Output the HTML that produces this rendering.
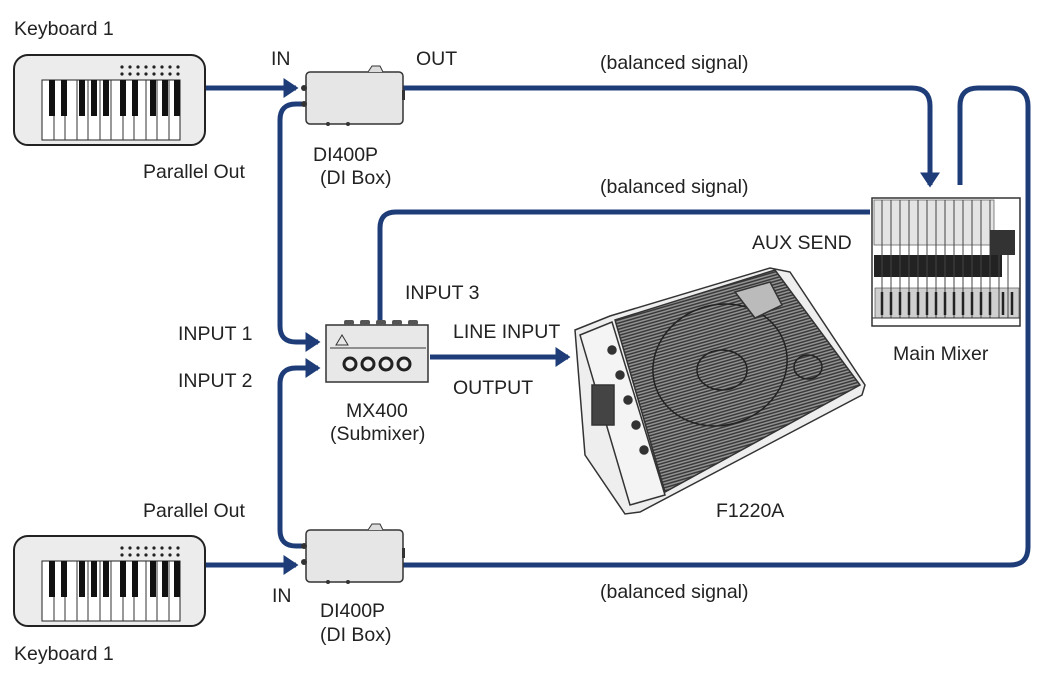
<!DOCTYPE html>
<html><head><meta charset="utf-8"><style>
html,body{margin:0;padding:0;background:#fff;}
svg{display:block}
text{font-family:"Liberation Sans",sans-serif;font-size:19.5px;fill:#222;}
</style></head><body>
<svg width="1053" height="676" viewBox="0 0 1053 676" xmlns="http://www.w3.org/2000/svg">
<defs>
<marker id="a" markerWidth="4" markerHeight="4" refX="2.5" refY="2" orient="auto" markerUnits="strokeWidth"><path d="M0,0 L3,2 L0,4 z" fill="#1e3d78"/></marker>
<pattern id="grill" width="3" height="3" patternUnits="userSpaceOnUse" patternTransform="rotate(-16)"><rect width="3" height="3" fill="#999"/><path d="M0,1 H3" stroke="#333" stroke-width="1.5"/></pattern>
<g id="kb">
<rect x="0" y="0" width="191" height="90" rx="14" fill="#ececec" stroke="#222" stroke-width="2"/>
<rect x="28" y="25" width="138" height="60" fill="#fff" stroke="#222"/>
<g stroke="#333" stroke-width="1">
<path d="M40,25V85M51,25V85M63,25V85M74,25V85M86,25V85M97,25V85M109,25V85M120,25V85M132,25V85M143,25V85M155,25V85"/></g>
<g fill="#111"><rect x="35" y="25" width="6" height="36"/><rect x="47" y="25" width="6" height="36"/><rect x="65" y="25" width="6" height="36"/><rect x="77" y="25" width="6" height="36"/><rect x="89" y="25" width="6" height="36"/><rect x="106" y="25" width="6" height="36"/><rect x="118" y="25" width="6" height="36"/><rect x="136" y="25" width="6" height="36"/><rect x="148" y="25" width="6" height="36"/><rect x="160" y="25" width="6" height="36"/></g>
<g fill="#222"><circle cx="108" cy="12" r="1.6"/><circle cx="116" cy="12" r="1.6"/><circle cx="124" cy="12" r="1.6"/><circle cx="132" cy="12" r="1.6"/><circle cx="140" cy="12" r="1.6"/><circle cx="148" cy="12" r="1.6"/><circle cx="156" cy="12" r="1.6"/><circle cx="164" cy="12" r="1.6"/>
<circle cx="108" cy="19" r="1.6"/><circle cx="116" cy="19" r="1.6"/><circle cx="124" cy="19" r="1.6"/><circle cx="132" cy="19" r="1.6"/><circle cx="140" cy="19" r="1.6"/><circle cx="148" cy="19" r="1.6"/><circle cx="156" cy="19" r="1.6"/><circle cx="164" cy="19" r="1.6"/></g>
</g>
<g id="di">
<rect x="0" y="0" width="97" height="52" rx="4" fill="#e6e6e6" stroke="#333" stroke-width="1.5"/>
<path d="M62,0 l4,-6 h8 l3,6" fill="#ddd" stroke="#333"/>
<circle cx="-2" cy="16" r="3" fill="#333"/><circle cx="-2" cy="32" r="3" fill="#333"/>
<rect x="96" y="18" width="3" height="10" fill="#333"/>
<circle cx="22" cy="52" r="2" fill="#333"/><circle cx="42" cy="52" r="2" fill="#333"/>
</g>
</defs>

<g fill="none" stroke="#1e3d78" stroke-width="5" stroke-linejoin="round">
<path d="M205,88 H296" marker-end="url(#a)"/>
<path d="M403,88 H912 Q930,88 930,106 V185" marker-end="url(#a)"/>
<path d="M960,185 V106 Q960,88 978,88 H1010 Q1028,88 1028,106 V547 Q1028,565 1010,565 H403"/>
<path d="M302,104 H296 Q280,104 280,120 V326 Q280,342 296,342 H318" marker-end="url(#a)"/>
<path d="M302,546 H296 Q280,546 280,530 V384 Q280,368 296,368 H318" marker-end="url(#a)"/>
<path d="M380,325 V228 Q380,212 396,212 H870"/>
<path d="M430,357 H568" marker-end="url(#a)"/>
<path d="M205,565 H296" marker-end="url(#a)"/>
</g>

<use href="#kb" x="14" y="55"/>
<use href="#kb" x="14" y="536"/>
<use href="#di" x="306" y="72"/>
<use href="#di" x="306" y="530"/>

<g>
<rect x="326" y="325" width="102" height="57" fill="#e8e8e8" stroke="#333" stroke-width="1.5"/>
<line x1="330" y1="348" x2="426" y2="348" stroke="#333"/>
<path d="M336,345 l6,-10 l6,10z" fill="none" stroke="#333"/>
<g fill="#eee" stroke="#222" stroke-width="3"><circle cx="350" cy="364" r="6"/><circle cx="368" cy="364" r="6"/><circle cx="386" cy="364" r="6"/><circle cx="404" cy="364" r="6"/></g>
<g fill="#555"><rect x="344" y="320" width="10" height="5" rx="2"/><rect x="360" y="320" width="10" height="5" rx="2"/><rect x="376" y="320" width="10" height="5" rx="2"/><rect x="392" y="320" width="10" height="5" rx="2"/><rect x="408" y="320" width="10" height="5" rx="2"/></g>
</g>

<g>
<rect x="872" y="198" width="148" height="128" fill="#fff" stroke="#333" stroke-width="1.5"/>
<rect x="874" y="200" width="120" height="45" fill="#e4e4e4" stroke="#555" stroke-width="0.7"/>
<rect x="874" y="255" width="128" height="22" fill="#222"/>
<rect x="875" y="288" width="144" height="30" fill="#cfcfcf" stroke="#555" stroke-width="0.7"/>
<g stroke="#444" stroke-width="1"><path d="M882,200V318M891,200V318M900,200V318M909,200V318M918,200V318M927,200V318M936,200V318M945,200V318M954,200V318M963,200V318M972,200V318M981,200V318M990,200V318M999,240V318M1008,240V318"/></g>
<g stroke="#222" stroke-width="2.5"><path d="M882,292V315M891,292V315M900,292V315M909,292V315M918,292V315M927,292V315M936,292V315M945,292V315M954,292V315M963,292V315M972,292V315M981,292V315M990,292V315M1003,292V315M1012,292V315"/></g>
<rect x="990" y="230" width="25" height="25" fill="#333"/>
<line x1="872" y1="318" x2="1020" y2="318" stroke="#333"/>
</g>

<g stroke="#333" stroke-width="1.5">
<path d="M575,330 L610,316 L770,268 L790,272 L865,385 L862,395 L640,512 L625,514 L585,455 Z" fill="#eee"/>
<path d="M615,320 L775,270 L860,385 L665,492 Z" fill="url(#grill)"/>
<path d="M580,335 L612,322 L665,495 L630,505 Z" fill="#f4f4f4"/>
<ellipse cx="720" cy="365" rx="68" ry="60" transform="rotate(-20 720 365)" fill="none" stroke="#222"/>
<ellipse cx="722" cy="370" rx="25" ry="20" fill="none" stroke="#222"/>
<path d="M735,292 L770,282 L782,305 L755,318 Z" fill="#bbb"/>
<ellipse cx="808" cy="367" rx="14" ry="12" fill="none" stroke="#222"/>
<rect x="592" y="385" width="22" height="40" fill="#444"/>
<g fill="#333"><circle cx="612" cy="350" r="4"/><circle cx="620" cy="375" r="4"/><circle cx="628" cy="400" r="4"/><circle cx="636" cy="425" r="4"/><circle cx="644" cy="450" r="4"/></g>
</g>

<text x="14" y="35">Keyboard 1</text>
<text x="271" y="65">IN</text>
<text x="416" y="65">OUT</text>
<text x="600" y="69">(balanced signal)</text>
<text x="143" y="178">Parallel Out</text>
<text x="313" y="161">DI400P</text>
<text x="320" y="184">(DI Box)</text>
<text x="600" y="193">(balanced signal)</text>
<text x="752" y="249">AUX SEND</text>
<text x="405" y="299">INPUT 3</text>
<text x="178" y="340">INPUT 1</text>
<text x="453" y="338">LINE INPUT</text>
<text x="178" y="387">INPUT 2</text>
<text x="453" y="394">OUTPUT</text>
<text x="346" y="417">MX400</text>
<text x="330" y="440">(Submixer)</text>
<text x="893" y="360">Main Mixer</text>
<text x="716" y="517">F1220A</text>
<text x="143" y="517">Parallel Out</text>
<text x="272" y="602">IN</text>
<text x="600" y="598">(balanced signal)</text>
<text x="320" y="617">DI400P</text>
<text x="320" y="641">(DI Box)</text>
<text x="14" y="660">Keyboard 1</text>
</svg>
</body></html>
